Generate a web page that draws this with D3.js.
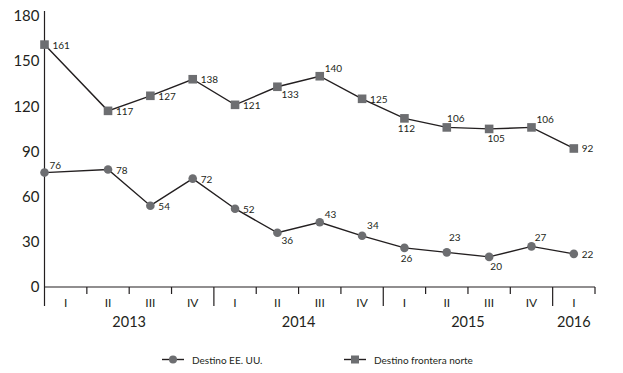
<!DOCTYPE html>
<html><head><meta charset="utf-8">
<script src="https://cdn.jsdelivr.net/npm/d3@7"></script>
<style>
body{margin:0;background:#fff;}
svg text{font-family:Lato,"Open Sans",sans-serif;fill:#231f20;}
</style></head>
<body><svg id="c" width="623" height="373"></svg>
<script>
// ---- data ----
const years = ["2013","2014","2015","2016"];
const quarters = ["I","II","III","IV","I","II","III","IV","I","II","III","IV","I"];
const quarterYear = [0,0,0,0,1,1,1,1,2,2,2,2,3];
const destinoEEUU = [76,78,54,72,52,36,43,34,26,23,20,27,22];
const destinoFrontera = [161,117,127,138,121,133,140,125,112,106,105,106,92];
const yTicks = [0,30,60,90,120,150,180];
const seriesNames = ["Destino EE. UU.","Destino frontera norte"];
// label placement codes (style)
const labelPosEEUU = ["tr","r","r","r","r","br","tr","tr2","b","ab2","bb","ab","r"];
const labelPosFrontera = ["r","r","r","r","r","br","tr","r","b","ab","bb","tr","r"];

const place = {
  r:{dx:8,dy:0,a:"start"}, br:{dx:4,dy:7,a:"start"}, tr:{dx:5,dy:-8,a:"start"},
  tr2:{dx:5,dy:-11,a:"start"}, b:{dx:2,dy:10,a:"middle"}, ab:{dx:9,dy:-9,a:"middle"},
  ab2:{dx:8,dy:-15,a:"middle"}, bb:{dx:7,dy:9,a:"middle"}
};

const svg = d3.select("#c");
const n = quarters.length;
const xb = d3.scaleLinear().domain([0,n]).range([44.5,595]);
const y = d3.scaleLinear().domain([0,180]).range([287,16]);
const ink = "#231f20", marker = "#6d6e71";
const px = i => i===0 ? xb(0) : xb(i+0.5);

// y axis labels
const ya = svg.append("g").attr("transform","translate(44.5,0)")
  .call(d3.axisLeft(y).tickValues(yTicks).tickSize(0).tickPadding(5));
ya.select(".domain").remove();
ya.selectAll("text").style("font-size","15px").attr("fill",ink);

// axis lines
svg.append("line").attr("x1",xb(0)).attr("x2",xb(0)).attr("y1",11).attr("y2",306)
  .attr("stroke",ink).attr("stroke-width",1.2);
svg.append("line").attr("x1",xb(0)).attr("x2",xb(n)).attr("y1",y(0)).attr("y2",y(0))
  .attr("stroke",ink).attr("stroke-width",1.2);
d3.range(1,n+1).forEach(i=>{
  const yearEnd = i<n && quarterYear[i]!==quarterYear[i-1];
  svg.append("line").attr("x1",xb(i)).attr("x2",xb(i)).attr("y1",y(0)).attr("y2",yearEnd?306:294)
    .attr("stroke",ink).attr("stroke-width",1.2);
});
// quarter labels
svg.selectAll(".q").data(quarters).join("text")
  .attr("x",(d,i)=>xb(i+0.5)).attr("y",302).attr("text-anchor","middle")
  .attr("dominant-baseline","central").style("font-size","12px").text(d=>d);
// year labels
years.forEach((yr,k)=>{
  const idx = quarterYear.map((q,i)=>q===k?i:-1).filter(i=>i>=0);
  const cx = (xb(idx[0]) + xb(idx[idx.length-1]+1))/2;
  svg.append("text").attr("x",cx).attr("y",321).attr("text-anchor","middle")
    .attr("dominant-baseline","central").style("font-size","14.5px").text(yr);
});

// lines
const line = d3.line().x((d,i)=>px(i)).y(d=>y(d));
[destinoEEUU,destinoFrontera].forEach(s=>{
  svg.append("path").attr("d",line(s)).attr("fill","none").attr("stroke",ink).attr("stroke-width",1.4);
});
// markers
svg.selectAll(".cm").data(destinoEEUU).join("circle")
  .attr("cx",(d,i)=>px(i)).attr("cy",d=>y(d)).attr("r",4.3).attr("fill",marker);
svg.selectAll(".sm").data(destinoFrontera).join("rect")
  .attr("x",(d,i)=>px(i)-4.3).attr("y",d=>y(d)-4.3).attr("width",8.6).attr("height",8.6).attr("fill",marker);

// data labels
function labels(s,pos){
  svg.append("g").selectAll("text").data(s).join("text")
    .attr("x",(d,i)=>px(i)+place[pos[i]].dx).attr("y",(d,i)=>y(d)+place[pos[i]].dy)
    .attr("text-anchor",(d,i)=>place[pos[i]].a).attr("dominant-baseline","central")
    .style("font-size","10px").text(d=>d);
}
labels(destinoEEUU,labelPosEEUU);
labels(destinoFrontera,labelPosFrontera);

// legend
const lg = [{x:162,shape:"c"},{x:344,shape:"s"}];
lg.forEach((l,k)=>{
  const ly = 359.5;
  svg.append("line").attr("x1",l.x).attr("x2",l.x+22).attr("y1",ly).attr("y2",ly)
    .attr("stroke",ink).attr("stroke-width",1.4);
  if(l.shape==="c") svg.append("circle").attr("cx",l.x+11).attr("cy",ly).attr("r",4).attr("fill",marker);
  else svg.append("rect").attr("x",l.x+11-4).attr("y",ly-4).attr("width",8).attr("height",8).attr("fill",marker);
  svg.append("text").attr("x",l.x+30).attr("y",ly).attr("dominant-baseline","central")
    .style("font-size","10px").text(seriesNames[k]);
});
</script></body></html>
